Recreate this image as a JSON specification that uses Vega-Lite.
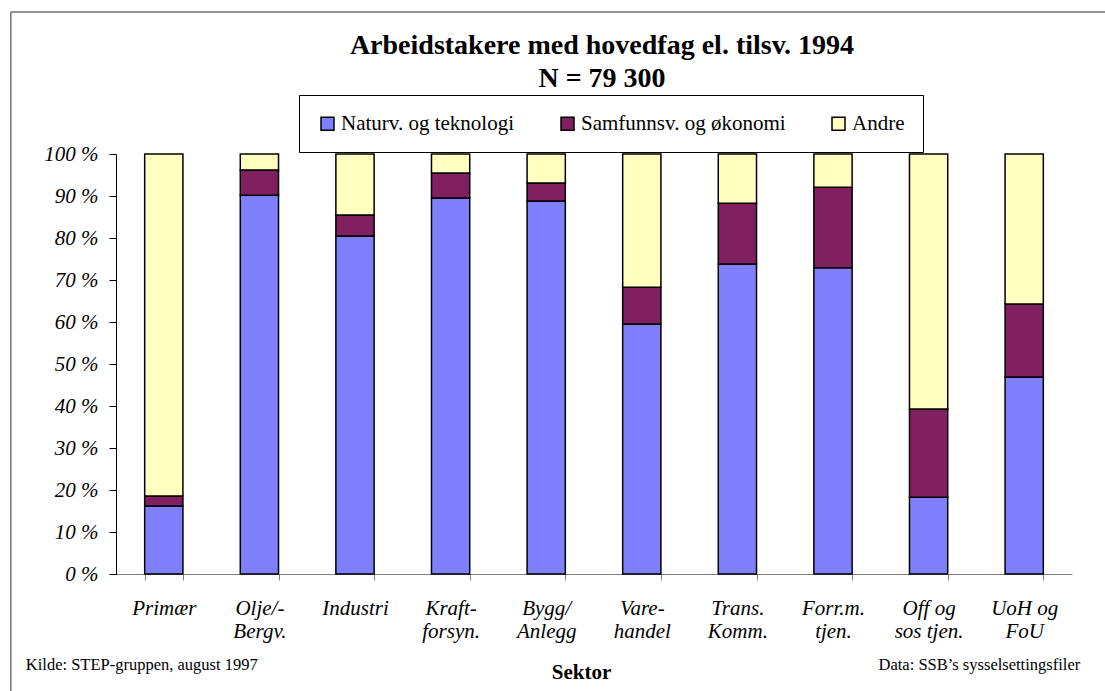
{
  "$schema": "https://vega.github.io/schema/vega-lite/v6.json",
  "width": 956,
  "height": 420,
  "autosize": {"type": "none"},
  "padding": {"left": 116, "top": 154, "right": 33, "bottom": 117},
  "background": "white",
  "config": {"view": {"stroke": null}},
  "title": {
    "text": ["Arbeidstakere med hovedfag el. tilsv. 1994", "N = 79 300"],
    "font": "Liberation Serif",
    "fontSize": 28,
    "fontWeight": "bold",
    "color": "black",
    "anchor": "middle",
    "frame": "group",
    "lineHeight": 33,
    "offset": -82,
    "dx": 8
  },
  "layer": [
    {
      "data": {
        "values": [
          {"sektor": "Primær", "gruppe": "Naturv. og teknologi", "andel": 16.2, "rekkefolge": 1},
          {"sektor": "Primær", "gruppe": "Samfunnsv. og økonomi", "andel": 2.4, "rekkefolge": 2},
          {"sektor": "Primær", "gruppe": "Andre", "andel": 81.4, "rekkefolge": 3},
          {"sektor": "Olje/-\nBergv.", "gruppe": "Naturv. og teknologi", "andel": 90.2, "rekkefolge": 1},
          {"sektor": "Olje/-\nBergv.", "gruppe": "Samfunnsv. og økonomi", "andel": 6.0, "rekkefolge": 2},
          {"sektor": "Olje/-\nBergv.", "gruppe": "Andre", "andel": 3.8, "rekkefolge": 3},
          {"sektor": "Industri", "gruppe": "Naturv. og teknologi", "andel": 80.5, "rekkefolge": 1},
          {"sektor": "Industri", "gruppe": "Samfunnsv. og økonomi", "andel": 5.0, "rekkefolge": 2},
          {"sektor": "Industri", "gruppe": "Andre", "andel": 14.5, "rekkefolge": 3},
          {"sektor": "Kraft-\nforsyn.", "gruppe": "Naturv. og teknologi", "andel": 89.5, "rekkefolge": 1},
          {"sektor": "Kraft-\nforsyn.", "gruppe": "Samfunnsv. og økonomi", "andel": 6.0, "rekkefolge": 2},
          {"sektor": "Kraft-\nforsyn.", "gruppe": "Andre", "andel": 4.5, "rekkefolge": 3},
          {"sektor": "Bygg/\nAnlegg", "gruppe": "Naturv. og teknologi", "andel": 88.8, "rekkefolge": 1},
          {"sektor": "Bygg/\nAnlegg", "gruppe": "Samfunnsv. og økonomi", "andel": 4.3, "rekkefolge": 2},
          {"sektor": "Bygg/\nAnlegg", "gruppe": "Andre", "andel": 6.9, "rekkefolge": 3},
          {"sektor": "Vare-\nhandel", "gruppe": "Naturv. og teknologi", "andel": 59.5, "rekkefolge": 1},
          {"sektor": "Vare-\nhandel", "gruppe": "Samfunnsv. og økonomi", "andel": 8.8, "rekkefolge": 2},
          {"sektor": "Vare-\nhandel", "gruppe": "Andre", "andel": 31.7, "rekkefolge": 3},
          {"sektor": "Trans.\nKomm.", "gruppe": "Naturv. og teknologi", "andel": 73.8, "rekkefolge": 1},
          {"sektor": "Trans.\nKomm.", "gruppe": "Samfunnsv. og økonomi", "andel": 14.5, "rekkefolge": 2},
          {"sektor": "Trans.\nKomm.", "gruppe": "Andre", "andel": 11.7, "rekkefolge": 3},
          {"sektor": "Forr.m.\ntjen.", "gruppe": "Naturv. og teknologi", "andel": 72.9, "rekkefolge": 1},
          {"sektor": "Forr.m.\ntjen.", "gruppe": "Samfunnsv. og økonomi", "andel": 19.2, "rekkefolge": 2},
          {"sektor": "Forr.m.\ntjen.", "gruppe": "Andre", "andel": 7.9, "rekkefolge": 3},
          {"sektor": "Off og\nsos tjen.", "gruppe": "Naturv. og teknologi", "andel": 18.3, "rekkefolge": 1},
          {"sektor": "Off og\nsos tjen.", "gruppe": "Samfunnsv. og økonomi", "andel": 21.0, "rekkefolge": 2},
          {"sektor": "Off og\nsos tjen.", "gruppe": "Andre", "andel": 60.7, "rekkefolge": 3},
          {"sektor": "UoH og\nFoU", "gruppe": "Naturv. og teknologi", "andel": 46.9, "rekkefolge": 1},
          {"sektor": "UoH og\nFoU", "gruppe": "Samfunnsv. og økonomi", "andel": 17.4, "rekkefolge": 2},
          {"sektor": "UoH og\nFoU", "gruppe": "Andre", "andel": 35.7, "rekkefolge": 3}
        ]
      },
      "mark": {"type": "bar", "stroke": "black", "strokeWidth": 1.5},
      "encoding": {
        "x": {
          "field": "sektor",
          "type": "nominal",
          "sort": null,
          "scale": {
            "domain": ["Primær", "Olje/-\nBergv.", "Industri", "Kraft-\nforsyn.", "Bygg/\nAnlegg", "Vare-\nhandel", "Trans.\nKomm.", "Forr.m.\ntjen.", "Off og\nsos tjen.", "UoH og\nFoU"],
            "paddingInner": 0.6,
            "paddingOuter": 0.3
          },
          "axis": {
            "title": "Sektor",
            "titleFont": "Liberation Serif",
            "titleFontSize": 21,
            "titleFontWeight": "bold",
            "titleColor": "black",
            "titleX": 465,
            "titleY": 104,
            "titleBaseline": "alphabetic",
            "labelExpr": "split(datum.label, '\\n')",
            "labelAngle": 0,
            "labelFont": "Liberation Serif",
            "labelFontStyle": "italic",
            "labelFontSize": 21,
            "labelLineHeight": 23,
            "labelColor": "black",
            "labelPadding": 17,
            "labelLimit": 300,
            "tickBand": "extent",
            "tickSize": 6,
            "tickColor": "#808080",
            "domainColor": "#808080",
            "grid": false
          }
        },
        "y": {
          "field": "andel",
          "type": "quantitative",
          "stack": "normalize",
          "scale": {"domain": [0, 1]},
          "axis": {
            "title": null,
            "values": [0, 0.1, 0.2, 0.3, 0.4, 0.5, 0.6, 0.7, 0.8, 0.9, 1],
            "labelExpr": "replace(format(datum.value, '.0%'), '%', ' %')",
            "labelFont": "Liberation Serif",
            "labelFontStyle": "italic",
            "labelFontSize": 21,
            "labelColor": "black",
            "labelPadding": 11,
            "tickSize": 7,
            "tickColor": "black",
            "domainColor": "black",
            "grid": false
          }
        },
        "color": {
          "field": "gruppe",
          "type": "nominal",
          "scale": {
            "domain": ["Naturv. og teknologi", "Samfunnsv. og økonomi", "Andre"],
            "range": ["#8080FF", "#802060", "#FFFFC0"]
          },
          "legend": {
            "title": null,
            "orient": "none",
            "legendX": 183,
            "legendY": -59,
            "direction": "horizontal",
            "symbolType": "square",
            "symbolSize": 169,
            "symbolStrokeColor": "black",
            "symbolStrokeWidth": 1.5,
            "symbolOpacity": 1,
            "labelFont": "Liberation Serif",
            "labelFontSize": 21,
            "labelColor": "black",
            "labelOffset": 3,
            "labelLimit": 400,
            "columnPadding": 42,
            "padding": 18,
            "strokeColor": "black",
            "fillColor": "white"
          }
        },
        "order": {"field": "rekkefolge", "type": "quantitative"}
      }
    },
    {
      "data": {"values": [{"merknad": "Kilde: STEP-gruppen, august 1997"}]},
      "mark": {"type": "text", "align": "left", "baseline": "alphabetic", "dx": -138, "dy": 96, "font": "Liberation Serif", "fontSize": 16.5, "fill": "black"},
      "encoding": {
        "x": {"datum": "Primær", "type": "nominal"},
        "y": {"datum": 0, "type": "quantitative"},
        "text": {"field": "merknad", "type": "nominal"}
      }
    },
    {
      "data": {"values": [{"merknad": "Data: SSB’s sysselsettingsfiler"}]},
      "mark": {"type": "text", "align": "right", "baseline": "alphabetic", "dx": 56, "dy": 96, "font": "Liberation Serif", "fontSize": 16.5, "fill": "black"},
      "encoding": {
        "x": {"datum": "UoH og\nFoU", "type": "nominal"},
        "y": {"datum": 0, "type": "quantitative"},
        "text": {"field": "merknad", "type": "nominal"}
      }
    },
    {
      "data": {"values": [{"ramme": "topp"}]},
      "mark": {"type": "rule", "color": "#707070", "strokeWidth": 1.5, "xOffset": -153, "x2Offset": 85},
      "encoding": {
        "x": {"datum": "Primær", "type": "nominal"},
        "x2": {"datum": "UoH og\nFoU"},
        "y": {"datum": 1.338, "type": "quantitative"}
      }
    },
    {
      "data": {"values": [{"ramme": "venstre"}]},
      "mark": {"type": "rule", "color": "#707070", "strokeWidth": 1.5, "xOffset": -153},
      "encoding": {
        "x": {"datum": "Primær", "type": "nominal"},
        "y": {"datum": 1.338, "type": "quantitative"},
        "y2": {"datum": -0.35}
      }
    }
  ]
}
